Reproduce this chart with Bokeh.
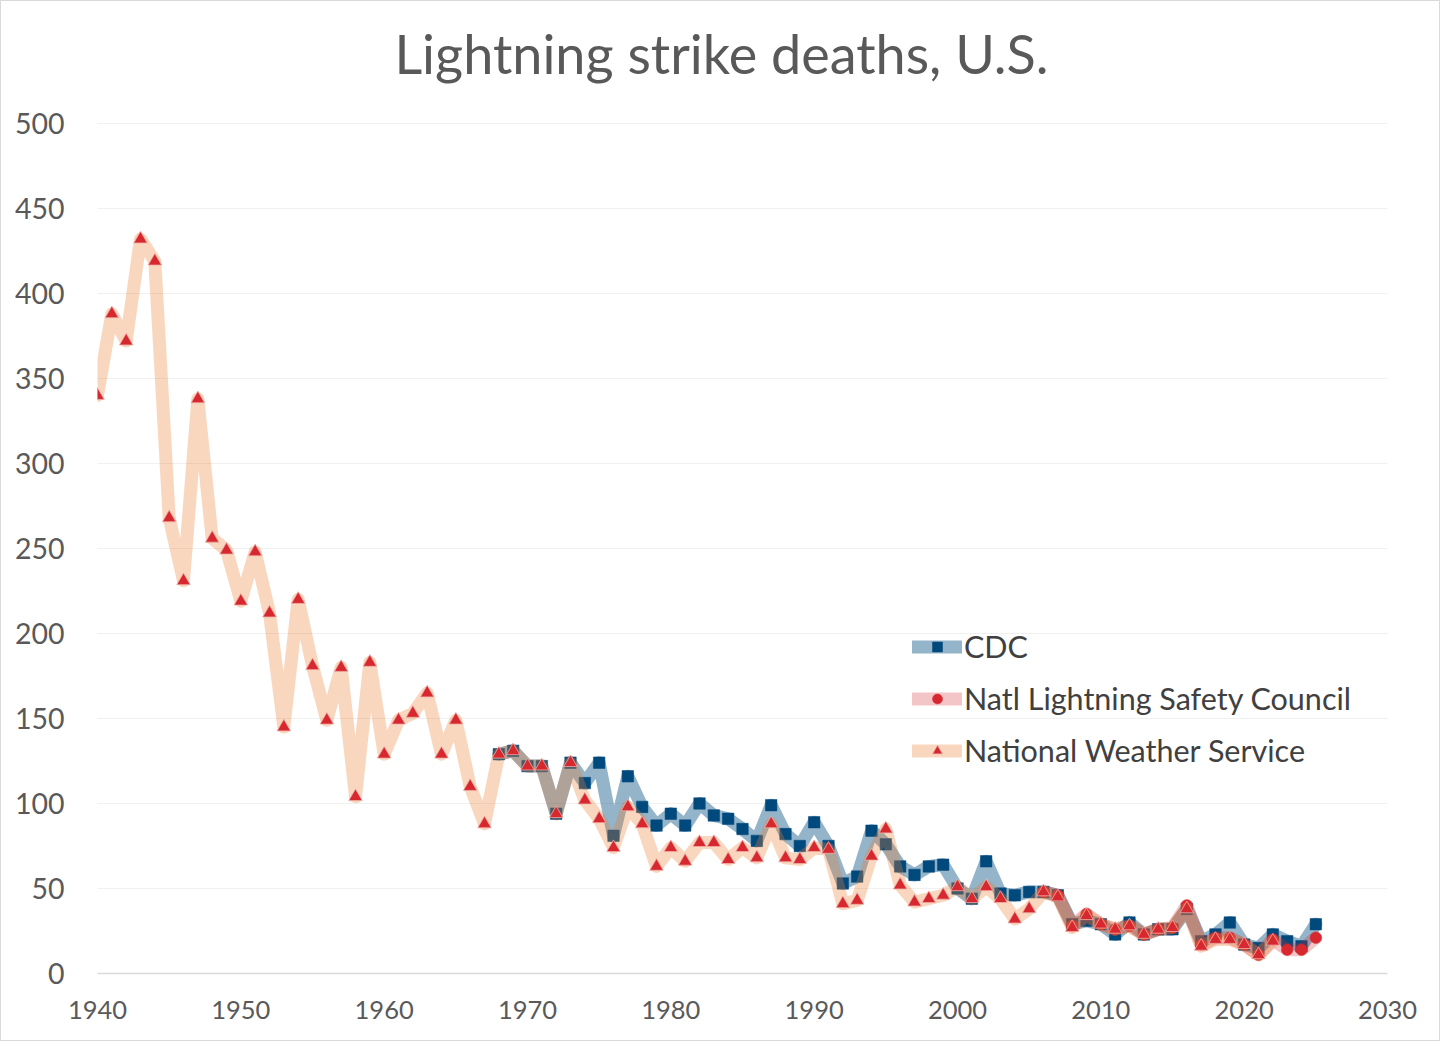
from bokeh.plotting import figure
from bokeh.models import Legend, LegendItem, SingleIntervalTicker, FixedTicker, Range1d, Label
from bokeh.embed import file_html
from bokeh.resources import INLINE

# ---------------- data ----------------
nws_start = 1940
nws_deaths = [340, 388, 372, 432, 419, 268, 231, 338, 256, 249,
              219, 248, 212, 145, 220, 181, 149, 180, 104, 183,
              129, 149, 153, 165, 129, 149, 110, 88, 129, 131,
              122, 122, 94, 124, 102, 91, 74, 98, 88, 63,
              74, 66, 77, 77, 67, 74, 68, 88, 68, 67,
              74, 73, 41, 43, 69, 85, 52, 42, 44, 46,
              51, 44, 51, 44, 32, 38, 48, 45, 27, 34,
              29, 26, 28, 23, 26, 27, 38, 16, 20, 20,
              17, 11, 19]
nws_years = list(range(nws_start, nws_start + len(nws_deaths)))

cdc_start = 1968
cdc_deaths = [129, 131, 122, 122, 94, 124, 112, 124, 81, 116,
              98, 87, 94, 87, 100, 93, 91, 85, 78, 99,
              82, 75, 89, 75, 53, 57, 84, 76, 63, 58,
              63, 64, 50, 44, 66, 47, 46, 48, 48, 46,
              29, 31, 29, 23, 30, 23, 26, 26, 38, 19,
              23, 30, 17, 15, 23, 19, 16, 29]
cdc_years = list(range(cdc_start, cdc_start + len(cdc_deaths)))

nlsc_start = 2006
nlsc_deaths = [48, 46, 28, 35, 29, 26, 28, 23, 26, 27,
               40, 17, 21, 21, 17, 11, 20, 14, 14, 21]
nlsc_years = list(range(nlsc_start, nlsc_start + len(nlsc_deaths)))

y_ticks = [0, 50, 100, 150, 200, 250, 300, 350, 400, 450, 500]
series_names = ["CDC", "Natl Lightning Safety Council", "National Weather Service"]
title_text = "Lightning strike deaths, U.S."

# ---------------- layout ----------------
FONT = "Lato"
TXT = "#595959"
W, H = 1440, 1041
BL, BR, BT, BB = 96, 54, 8, 69
PLOT_TOP = 122            # pixel row of the 500 gridline
Y_MAX = 500
frame_h = H - BT - BB
y_end = Y_MAX * frame_h / (H - BB - PLOT_TOP)   # headroom for the title inside the frame

p = figure(width=W, height=H, output_backend="svg", toolbar_location=None,
           x_range=Range1d(1940, 2030), y_range=Range1d(0, y_end),
           min_border_left=BL, min_border_right=BR, min_border_top=BT,
           min_border_bottom=BB)
p.styles = {"border": "1px solid #d9d9d9"}
p.outline_line_color = None
p.background_fill_color = "white"
p.border_fill_color = "white"

title = Label(x=W / 2 - BL, y=frame_h - (52 - BT), x_units="screen", y_units="screen",
              text=title_text, text_font=FONT, text_font_size="54px",
              text_color=TXT, text_align="center", text_baseline="middle")
p.add_layout(title)

p.xaxis.ticker = SingleIntervalTicker(interval=10)
p.yaxis.ticker = FixedTicker(ticks=y_ticks)
for ax in (p.xaxis[0], p.yaxis[0]):
    ax.major_tick_line_color = None
    ax.minor_tick_line_color = None
    ax.major_label_text_font = FONT
    ax.major_label_text_color = TXT
p.xaxis.major_label_text_font_size = "25.5px"
p.yaxis.major_label_text_font_size = "28.5px"
p.xaxis.axis_line_color = "#d9d9d9"
p.xaxis.axis_line_width = 1.5
p.yaxis.axis_line_color = None
p.xaxis.major_label_standoff = 21
p.yaxis.major_label_standoff = 27
p.xgrid.grid_line_color = None
p.ygrid.grid_line_color = "#f0f0f0"
p.ygrid.grid_line_width = 1

LW = 13

cdc_line = p.line(cdc_years, cdc_deaths, line_color=(0, 76, 127), line_alpha=0.42,
                  line_width=LW, line_join="round", line_cap="round")
cdc_pts = p.scatter(cdc_years, cdc_deaths, marker="square", size=11.5,
                    fill_color="#00497d", line_color="#00497d", line_width=0.5)

nlsc_line = p.line(nlsc_years, nlsc_deaths, line_color=(215, 40, 47), line_alpha=0.27,
                   line_width=LW, line_join="round", line_cap="round")
nlsc_pts = p.scatter(nlsc_years, nlsc_deaths, marker="circle", size=11.5,
                     fill_color="#d7282f", line_color="#d7282f", line_width=0.5)

nws_line = p.line(nws_years, nws_deaths, line_color=(237, 125, 49), line_alpha=0.31,
                  line_width=LW, line_join="round", line_cap="round")
nws_pts = p.scatter(nws_years, nws_deaths, marker="triangle", size=13.5,
                    fill_color="#d7282f", line_color="#f0b0a8", line_width=0.8)

legend = Legend(items=[
    LegendItem(label=series_names[0], renderers=[cdc_line, cdc_pts]),
    LegendItem(label=series_names[1], renderers=[nlsc_line, nlsc_pts]),
    LegendItem(label=series_names[2], renderers=[nws_line, nws_pts]),
], location=(815, 205))
legend.glyph_width = 50
legend.glyph_height = 25
legend.label_height = 25
legend.label_standoff = 2
legend.spacing = 16
legend.padding = 0
legend.margin = 0
legend.border_line_color = None
legend.background_fill_alpha = 0
legend.label_text_font = FONT
legend.label_text_font_size = "30.5px"
legend.label_text_color = "#404040"
p.add_layout(legend)

open("out.html", "w").write(file_html(p, INLINE))
